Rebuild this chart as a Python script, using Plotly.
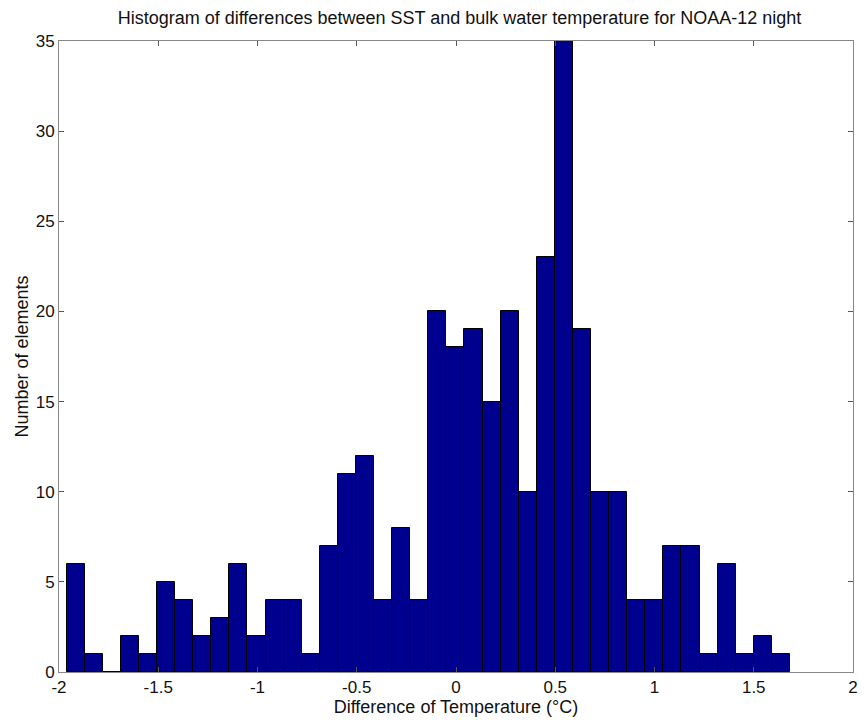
import plotly.graph_objects as go

counts = [6, 1, 0, 2, 1, 5, 4, 2, 3, 6, 2, 4, 4, 1, 7, 11, 12, 4, 8, 4,
          20, 18, 19, 15, 20, 10, 23, 35, 19, 10, 10, 4, 4, 7, 7, 1, 6, 1, 2, 1]
bin_start = -1.9615
bin_width = 0.0911
x_ticks = [-2, -1.5, -1, -0.5, 0, 0.5, 1, 1.5, 2]
x_tick_labels = ["-2", "-1.5", "-1", "-0.5", "0", "0.5", "1", "1.5", "2"]
y_ticks = [0, 5, 10, 15, 20, 25, 30, 35]

centers = [bin_start + bin_width * (i + 0.5) for i in range(len(counts))]

fig = go.Figure(go.Bar(
    x=centers, y=counts, width=bin_width,
    marker=dict(color="#00008F", line=dict(color="black", width=1)),
))

font = dict(family="Liberation Sans, Arial, sans-serif", color="#111")
fig.update_layout(
    width=866, height=723,
    margin=dict(l=59, r=8, t=41, b=51),
    paper_bgcolor="white", plot_bgcolor="white",
    showlegend=False,
    bargap=0,
    font=dict(size=17, **font),
    title=dict(text="Histogram of differences between SST and bulk water temperature for NOAA-12 night",
               x=0.5306, xanchor="center", y=0.975, yanchor="middle",
               font=dict(size=18, **font)),
    xaxis=dict(range=[-2, 2], tickvals=x_ticks, ticktext=x_tick_labels,
               ticks="inside", ticklen=5, tickcolor="#555", mirror="ticks",
               showline=True, linecolor="#888", linewidth=1, showgrid=False,
               zeroline=False, tickfont=dict(size=17, **font),
               title=dict(text="Difference of Temperature (°C)", standoff=0,
                          font=dict(size=18, **font))),
    yaxis=dict(range=[0, 35], tickvals=y_ticks,
               ticks="inside", ticklen=5, tickcolor="#555", mirror="ticks",
               showline=True, linecolor="#888", linewidth=1, showgrid=False,
               zeroline=False, tickfont=dict(size=17, **font),
               title=dict(text="Number of elements", standoff=2,
                          font=dict(size=18, **font))),
)

fig.write_html("out.html")
